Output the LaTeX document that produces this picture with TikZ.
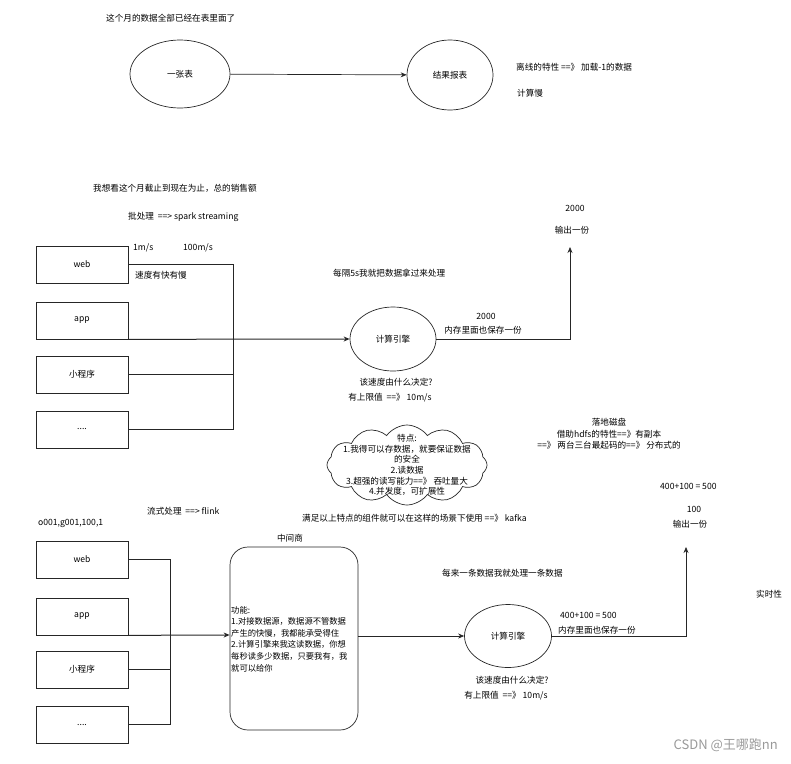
\documentclass[tikz,border=0pt]{standalone}
\usepackage{fontspec}
\setmainfont{Noto Sans CJK SC}
\usetikzlibrary{shapes.geometric,shapes.symbols,arrows.meta}
\newcommand{\fs}{\fontsize{8.6}{11}\selectfont}
\begin{document}
\begin{tikzpicture}[x=1pt,y=-1pt,
  every node/.style={font=\fs, inner sep=0pt},
  line/.style={draw=black!85, line width=0.7pt},
  arr/.style={line, -{Stealth[length=6pt,width=5pt]}},
  box/.style={draw=black!85, line width=0.7pt, minimum width=92pt, minimum height=37pt},
  ell/.style={draw=black!85, line width=0.7pt, ellipse},
  lbl/.style={anchor=west}]
\useasboundingbox (0,0) rectangle (791,763);

% ---------- top ----------
\node[lbl] (t0) at (106,18) {这个月的数据全部已经在表里面了};
\node[ell, minimum width=100pt, minimum height=68pt] (tab) at (180,74) {一张表};
\node[ell, minimum width=86pt, minimum height=70pt] (res) at (450,75) {结果报表};
\draw[arr] (tab) -- (res);
\node[lbl] (t1) at (516,67) {离线的特性 ==》 加载-1的数据};
\node[lbl] (t2) at (517,93) {计算慢};

% ---------- middle ----------
\node[lbl] (t3) at (93,188) {我想看这个月截止到现在为止，总的销售额};
\node[lbl] (t4) at (128,217) {批处理\ \ ==> spark streaming};
\node[box] (w1) at (82,264.5) {web};
\node[box] (a1) at (82,320.5) {app};
\node[box] (m1) at (82,374.5) {小程序};
\node[box] (d1) at (82,429.5) {....};
\node[lbl] (t5) at (133,248) {1m/s};
\node[lbl] (t6) at (183,248) {100m/s};
\node[lbl] (t7) at (135,275) {速度有快有慢};
\node[lbl] (t8) at (333,273) {每隔5s我就把数据拿过来处理};
\node[ell, minimum width=86pt, minimum height=64pt] (e1) at (393,339) {计算引擎};
\coordinate (bus1) at (233,339);
\draw[line] (w1.east) -| (bus1);
\draw[line] (m1.east) -| (bus1);
\draw[line] (d1.east) -| (bus1);
\draw[arr, line width=1pt] (a1.south east) -- (e1.west);
\coordinate (o1) at (570,247);
\draw[arr] (e1.east) -| (o1);
\node (t9) at (575,208) {2000};
\node (t10) at (572,230) {输出一份};
\node (t11) at (486,316) {2000};
\node (t12) at (483,330) {内存里面也保存一份};
\node (t13) at (396,382) {该速度由什么决定?};
\node (t14) at (390,398) {有上限值\ \ ==》 10m/s};

% ---------- cloud / notes ----------
\node[cloud, draw=black!85, line width=0.7pt, cloud puffs=12, cloud puff arc=110, aspect=2.1, minimum width=160pt, minimum height=80pt] (cl) at (407,465) {};
\node[align=center, font=\fontsize{8.6}{10.6}\selectfont] (clt) at (407,465) {特点:\\1.我得可以存数据，就要保证数据\\的安全\\2.读数据\\3.超强的读写能力==》 吞吐量大\\4.并发度，可扩展性};
\node[lbl] (t15) at (302,518) {满足以上特点的组件就可以在这样的场景下使用 ==》 kafka};
\node[align=center, font=\fontsize{8.6}{11.5}\selectfont] (t16) at (609,434) {落地磁盘\\借助hdfs的特性==》有副本\\==》 两台三台最起码的==》 分布式的};

% ---------- bottom ----------
\node[lbl] (t17) at (147,511) {流式处理\ \ ==> flink};
\node[lbl] (t18) at (38,523) {o001,g001,100,1};
\node (t19) at (290,538) {中间商};
\node[box] (w2) at (82,559.5) {web};
\node[box] (a2) at (82,616.5) {app};
\node[box] (m2) at (82,669.5) {小程序};
\node[box] (d2) at (82,724.5) {....};
\node[draw=black!85, line width=0.7pt, rounded corners=18pt, minimum width=128pt, minimum height=183pt] (mid) at (294,638.5) {};
\node[anchor=west, align=left, font=\fontsize{8.3}{11.6}\selectfont] (midt) at (231,639) {功能:\\1.对接数据源，数据源不管数据\\产生的快慢，我都能承受得住\\2.计算引擎来我这读数据，你想\\每秒读多少数据，只要我有，我\\就可以给你};
\coordinate (bus2) at (170,635);
\draw[line] (w2.east) -| (bus2);
\draw[line] (m2.east) -| (bus2);
\draw[line] (d2.east) -| (bus2);
\draw[arr, line width=1pt] (a2.south east) -- (mid.west |- bus2);
\node[ell, minimum width=87pt, minimum height=63pt] (e2) at (508,636) {计算引擎};
\draw[arr] (mid.east |- e2) -- (e2.west);
\coordinate (o2) at (686,547);
\draw[arr] (e2.east) -| (o2);
\node[lbl] (t20) at (442,573) {每来一条数据我就处理一条数据};
\node[lbl] (t21) at (756,594) {实时性};
\node[lbl] (t22) at (660,486) {400+100 = 500};
\node (t23) at (694,509) {100};
\node (t24) at (690,524) {输出一份};
\node[lbl] (t25) at (560,615) {400+100 = 500};
\node[lbl] (t26) at (558,630) {内存里面也保存一份};
\node (t27) at (512,680) {该速度由什么决定?};
\node (t28) at (506,696) {有上限值\ \ ==》 10m/s};

\node[anchor=east, text=black!40, font=\fontsize{13}{15}\selectfont] (wm) at (778,745) {CSDN @王哪跑nn};
\end{tikzpicture}
\end{document}
